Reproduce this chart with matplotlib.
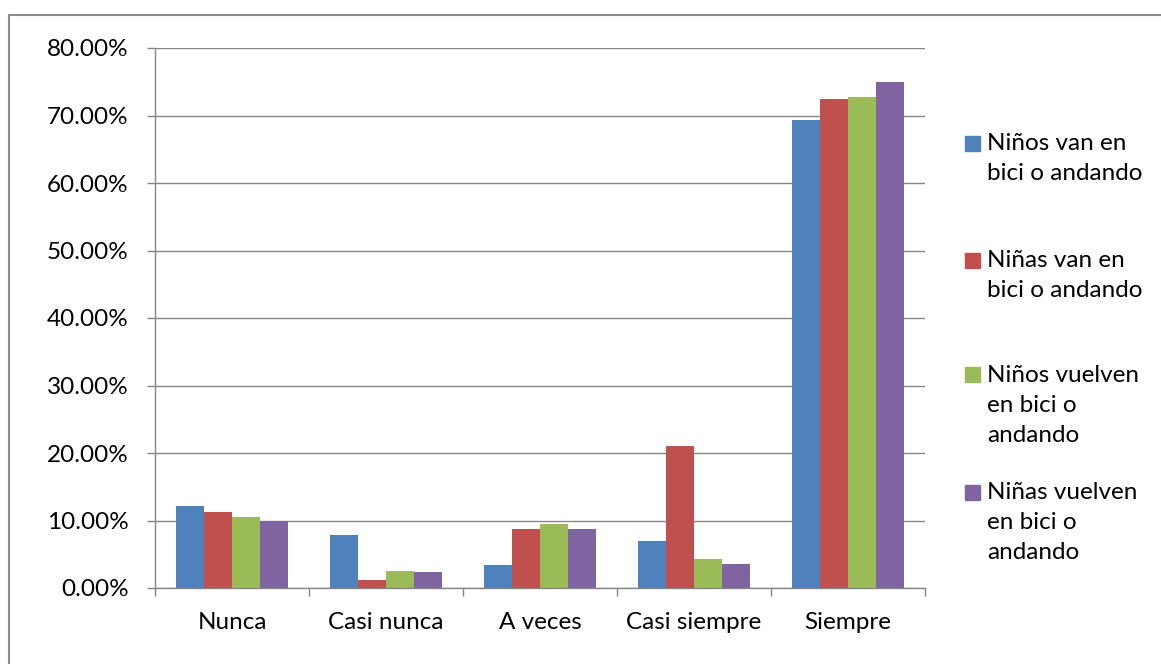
import matplotlib
matplotlib.use("Agg")
import matplotlib.pyplot as plt
import numpy as np
from matplotlib.patches import Rectangle
from matplotlib.lines import Line2D
from matplotlib.ticker import FuncFormatter

plt.rcParams['font.family'] = ['Lato', 'DejaVu Sans']

categorias = ['Nunca', 'Casi nunca', 'A veces', 'Casi siempre', 'Siempre']
series = ['Niños van en\nbici o andando',
          'Niñas van en\nbici o andando',
          'Niños vuelven\nen bici o\nandando',
          'Niñas vuelven\nen bici o\nandando']
ninos_van = [12.2, 7.9, 3.4, 6.9, 69.3]
ninas_van = [11.2, 1.2, 8.7, 21.1, 72.5]
ninos_vuelven = [10.5, 2.5, 9.5, 4.3, 72.8]
ninas_vuelven = [10.0, 2.4, 8.7, 3.6, 75.0]
colores = ['#4F81BD', '#C0504D', '#9BBB59', '#8064A2']

W, H = 1161, 664
fs = 17.5
fig = plt.figure(figsize=(W / 100, H / 100), dpi=100)
ax = fig.add_axes([155 / W, 1 - 588 / H, (925 - 155) / W, (588 - 48) / H])

gris = '#868686'
x = np.arange(len(categorias))
bw = 0.182
datos = [ninos_van, ninas_van, ninos_vuelven, ninas_vuelven]
for i, (vals, c) in enumerate(zip(datos, colores)):
    ax.bar(x + (i - 1.5) * bw, vals, bw, color=c, zorder=3)

ax.set_xlim(-0.5, len(categorias) - 0.5)
ax.set_ylim(0, 80)
ax.set_yticks(np.arange(0, 81, 10))
ax.yaxis.set_major_formatter(FuncFormatter(lambda v, p: f'{v:.2f}%'))
ax.grid(axis='y', color=gris, lw=1.0, zorder=0)
ax.set_xticks(x)
ax.set_xticklabels(categorias)
ax.set_xticks(np.arange(-0.5, len(categorias), 1), minor=True)
ax.tick_params(axis='x', which='major', length=0, pad=17, labelsize=fs)
ax.tick_params(axis='x', which='minor', length=6, width=1.0, color=gris, direction='out')
ax.tick_params(axis='y', length=6, width=1.0, color=gris, pad=13, labelsize=fs)

for s in ['top', 'right']:
    ax.spines[s].set_visible(False)
for s in ['left', 'bottom']:
    ax.spines[s].set_color(gris)
    ax.spines[s].set_linewidth(1.0)
    ax.spines[s].set_zorder(4)

# leyenda manual
ys = [143, 260, 375, 492]
for lab, c, y in zip(series, colores, ys):
    fig.patches.append(Rectangle((965 / W, 1 - (y + 7.5) / H), 15 / W, 15 / H,
                                 transform=fig.transFigure, color=c))
    fig.text(987 / W, 1 - (y - 10) / H, lab, fontsize=fs, va='top', ha='left',
             linespacing=1.52)

# borde exterior
fig.lines.append(Line2D([9 / W, 9 / W, 1], [0, 1 - 15 / H, 1 - 15 / H],
                        transform=fig.transFigure, color='#8c8c8c', lw=1.5))

fig.savefig('out.png', dpi=100)
